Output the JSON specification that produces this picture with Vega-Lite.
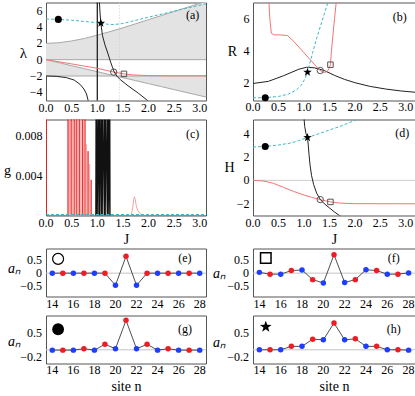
{
"$schema":"https://vega.github.io/schema/vega-lite/v6.json",
"autosize":{"type":"pad"},
"padding":{"left":3,"top":0.5,"right":0,"bottom":0},
"config":{
 "font":"Liberation Serif",
 "view":{"stroke":"#555555","strokeWidth":1},
 "axis":{"domain":false,"ticks":false,"grid":false,"labels":false,"titleFont":"Liberation Serif","titleFontSize":14,"titleFontWeight":"normal","titleColor":"#000000","titlePadding":2},
 "text":{"font":"Liberation Serif","fontSize":12,"color":"#000000"}
},
"datasets":{
 "xlabJ":[{"J":0,"t":"0.0"},{"J":0.5,"t":"0.5"},{"J":1,"t":"1.0"},{"J":1.5,"t":"1.5"},{"J":2,"t":"2.0"},{"J":2.5,"t":"2.5"},{"J":3,"t":"3.0"}],
 "xlabN":[{"n":14,"t":"14"},{"n":16,"t":"16"},{"n":18,"t":"18"},{"n":20,"t":"20"},{"n":22,"t":"22"},{"n":24,"t":"24"},{"n":26,"t":"26"},{"n":28,"t":"28"}],
 "a_band":[{"J":0,"up":2.0,"lo":0},{"J":0.25,"up":2.07,"lo":-0.37},{"J":0.5,"up":2.29,"lo":-0.74},{"J":0.75,"up":2.6,"lo":-1.1},{"J":1,"up":3.0,"lo":-1.47},{"J":1.25,"up":3.44,"lo":-1.84},{"J":1.5,"up":3.9,"lo":-2.2},{"J":1.75,"up":4.4,"lo":-2.57},{"J":2,"up":4.9,"lo":-2.94},{"J":2.25,"up":5.4,"lo":-3.3},{"J":2.5,"up":5.9,"lo":-3.67},{"J":2.75,"up":6.4,"lo":-4.04},{"J":3,"up":6.9,"lo":-4.4},{"J":3.12,"up":7.15,"lo":-4.58}],
 "a_black1":[{"J":0,"v":-2.0},{"J":0.2,"v":-2.04},{"J":0.4,"v":-2.2},{"J":0.55,"v":-2.5},{"J":0.66,"v":-3.0},{"J":0.74,"v":-3.6},{"J":0.79,"v":-4.2},{"J":0.83,"v":-5.2}],
 "a_black2":[{"J":1.04,"v":7.2},{"J":1.055,"v":5.6},{"J":1.07,"v":4.46},{"J":1.1,"v":3.0},{"J":1.15,"v":1.8},{"J":1.21,"v":0.7},{"J":1.26,"v":-0.3},{"J":1.3,"v":-1.0},{"J":1.33,"v":-1.5},{"J":1.38,"v":-2.0},{"J":1.45,"v":-2.45},{"J":1.6,"v":-3.2},{"J":1.8,"v":-4.1},{"J":2.02,"v":-5.2}],
 "a_cyan":[{"J":0,"v":4.97},{"J":0.24,"v":4.93},{"J":0.5,"v":4.83},{"J":0.8,"v":4.65},{"J":1.07,"v":4.46},{"J":1.2,"v":4.34},{"J":1.33,"v":4.3},{"J":1.5,"v":4.43},{"J":1.7,"v":4.75},{"J":1.9,"v":5.05},{"J":2.1,"v":5.35},{"J":2.37,"v":5.75},{"J":2.6,"v":6.1},{"J":2.85,"v":6.45},{"J":3.12,"v":6.85}],
 "a_red":[{"J":0,"v":0},{"J":0.5,"v":-0.52},{"J":1.0,"v":-1.06},{"J":1.32,"v":-1.52},{"J":1.52,"v":-1.74},{"J":1.7,"v":-1.87},{"J":2.0,"v":-1.95},{"J":2.5,"v":-1.97},{"J":3.12,"v":-1.97}],
 "b_black":[{"J":0,"v":2.0},{"J":0.3,"v":2.13},{"J":0.6,"v":2.48},{"J":0.9,"v":2.88},{"J":1.05,"v":3.0},{"J":1.2,"v":2.97},{"J":1.4,"v":2.8},{"J":1.6,"v":2.5},{"J":1.8,"v":2.25},{"J":2.0,"v":2.05},{"J":2.3,"v":1.82},{"J":2.6,"v":1.66},{"J":2.9,"v":1.54},{"J":3.18,"v":1.46}],
 "b_cyan":[{"J":0,"v":1.12},{"J":0.24,"v":1.12},{"J":0.5,"v":1.2},{"J":0.7,"v":1.35},{"J":0.85,"v":1.6},{"J":0.95,"v":1.9},{"J":1.02,"v":2.3},{"J":1.07,"v":2.7},{"J":1.12,"v":3.3},{"J":1.17,"v":3.9},{"J":1.25,"v":4.8},{"J":1.33,"v":5.6},{"J":1.4,"v":6.3},{"J":1.48,"v":7.1}],
 "b_red":[{"J":0.31,"v":7.2},{"J":0.33,"v":6.0},{"J":0.36,"v":5.1},{"J":0.42,"v":5.0},{"J":0.55,"v":5.0},{"J":0.68,"v":4.95},{"J":0.8,"v":4.6},{"J":0.9,"v":4.25},{"J":1.0,"v":3.9},{"J":1.1,"v":3.55},{"J":1.2,"v":3.2},{"J":1.3,"v":2.85},{"J":1.38,"v":2.68},{"J":1.45,"v":2.72},{"J":1.49,"v":2.9},{"J":1.52,"v":3.16},{"J":1.54,"v":4.0},{"J":1.57,"v":5.0},{"J":1.6,"v":6.0},{"J":1.64,"v":7.2}],
 "c_red":[{"J":0,"g":0},{"J":0.006,"g":0},{"J":0.008,"g":0.012},{"J":0.01,"g":0},{"J":0.428,"g":0},{"J":0.43,"g":0.012},{"J":0.432,"g":0},{"J":0.488,"g":0},{"J":0.49,"g":0.012},{"J":0.492,"g":0},{"J":0.548,"g":0},{"J":0.55,"g":0.012},{"J":0.552,"g":0},{"J":0.598,"g":0},{"J":0.6,"g":0.012},{"J":0.602,"g":0},{"J":0.648,"g":0},{"J":0.65,"g":0.012},{"J":0.652,"g":0},{"J":0.708,"g":0},{"J":0.71,"g":0.012},{"J":0.712,"g":0},{"J":0.758,"g":0},{"J":0.76,"g":0.012},{"J":0.762,"g":0},{"J":0.818,"g":0},{"J":0.82,"g":0.0065},{"J":0.822,"g":0},{"J":0.878,"g":0},{"J":0.88,"g":0.0036},{"J":0.882,"g":0},{"J":3.12,"g":0}],
 "c_pink":[{"J":0.455,"g":0},{"J":0.46,"g":0.012},{"J":0.465,"g":0},{"J":0.515,"g":0},{"J":0.52,"g":0.012},{"J":0.525,"g":0},{"J":0.57,"g":0},{"J":0.575,"g":0.012},{"J":0.58,"g":0},{"J":0.62,"g":0},{"J":0.625,"g":0.012},{"J":0.63,"g":0},{"J":0.675,"g":0},{"J":0.68,"g":0.012},{"J":0.685,"g":0},{"J":0.73,"g":0},{"J":0.735,"g":0.0095},{"J":0.74,"g":0},{"J":0.785,"g":0},{"J":0.79,"g":0.0072},{"J":0.795,"g":0},{"J":0.845,"g":0},{"J":0.85,"g":0.0052},{"J":0.855,"g":0}],
 "c_black":[{"J":0.97,"g":0},{"J":0.975,"g":0.012},{"J":0.98,"g":0},{"J":0.995,"g":0.012},{"J":1.0,"g":0},{"J":1.025,"g":0.012},{"J":1.03,"g":0},{"J":1.045,"g":0.012},{"J":1.05,"g":0},{"J":1.075,"g":0.012},{"J":1.08,"g":0},{"J":1.1,"g":0.012},{"J":1.105,"g":0},{"J":1.135,"g":0.012},{"J":1.14,"g":0},{"J":1.16,"g":0.012},{"J":1.165,"g":0},{"J":1.195,"g":0.012},{"J":1.2,"g":0},{"J":1.22,"g":0.012},{"J":1.225,"g":0},{"J":1.245,"g":0.012},{"J":1.25,"g":0}],
 "c_bump":[{"J":1.66,"g":0},{"J":1.69,"g":0.0008},{"J":1.71,"g":0.0016},{"J":1.725,"g":0.0019},{"J":1.74,"g":0.0016},{"J":1.76,"g":0.001},{"J":1.79,"g":0.0005},{"J":1.83,"g":0.0002},{"J":1.9,"g":0}],
 "d_black":[{"J":1.0,"v":5.4},{"J":1.015,"v":4.6},{"J":1.04,"v":4.0},{"J":1.07,"v":3.66},{"J":1.085,"v":3.0},{"J":1.1,"v":2.2},{"J":1.12,"v":1.3},{"J":1.15,"v":0.4},{"J":1.19,"v":-0.35},{"J":1.25,"v":-1.1},{"J":1.32,"v":-1.62},{"J":1.4,"v":-2.0},{"J":1.5,"v":-2.35},{"J":1.6,"v":-2.7},{"J":1.73,"v":-3.1}],
 "d_cyan":[{"J":0,"v":2.85},{"J":0.24,"v":2.9},{"J":0.5,"v":3.02},{"J":0.75,"v":3.2},{"J":0.9,"v":3.4},{"J":1.07,"v":3.66},{"J":1.3,"v":4.0},{"J":1.5,"v":4.3},{"J":1.7,"v":4.6},{"J":1.9,"v":4.95},{"J":2.1,"v":5.3}],
 "d_red":[{"J":0,"v":0},{"J":0.2,"v":-0.05},{"J":0.4,"v":-0.25},{"J":0.6,"v":-0.6},{"J":0.8,"v":-0.95},{"J":1.0,"v":-1.25},{"J":1.15,"v":-1.45},{"J":1.32,"v":-1.64},{"J":1.52,"v":-1.84},{"J":1.7,"v":-1.94},{"J":2.0,"v":-1.99},{"J":3.18,"v":-2.0}],
 "sites":[{"n":14,"sub":"B","e":0,"f":0.03,"g":-0.01,"h":0.0},{"n":15,"sub":"R","e":0,"f":-0.04,"g":-0.01,"h":0.0},{"n":16,"sub":"B","e":0,"f":-0.04,"g":-0.01,"h":0.0},{"n":17,"sub":"R","e":0,"f":0.1,"g":0.03,"h":0.1},{"n":18,"sub":"B","e":0,"f":0.12,"g":-0.01,"h":0.1},{"n":19,"sub":"R","e":0,"f":-0.25,"g":0.16,"h":0.31},{"n":20,"sub":"B","e":-0.47,"f":-0.38,"g":0.03,"h":0.29},{"n":21,"sub":"R","e":0.65,"f":0.71,"g":0.86,"h":0.78},{"n":22,"sub":"B","e":-0.47,"f":-0.36,"g":0.03,"h":0.29},{"n":23,"sub":"R","e":0,"f":-0.25,"g":0.16,"h":0.32},{"n":24,"sub":"B","e":0,"f":0.13,"g":-0.01,"h":0.1},{"n":25,"sub":"R","e":0,"f":0.1,"g":0.03,"h":0.1},{"n":26,"sub":"B","e":0,"f":-0.04,"g":-0.01,"h":0.0},{"n":27,"sub":"R","e":0,"f":-0.04,"g":-0.01,"h":0.0},{"n":28,"sub":"B","e":0,"f":0.01,"g":-0.01,"h":-0.01}]
},
"spacing":0,
"bounds":"full",
"vconcat":[
{"columns":2,"bounds":"flush","spacing":{"row":19,"column":47},"concat":[
 {"width":160,"height":98,"layer":[
  {"data":{"name":"a_band"},"mark":{"type":"area","color":"#e3e3e3","clip":true},"encoding":{
    "x":{"field":"J","type":"quantitative","scale":{"domain":[0,3.12],"nice":false,"zero":false},"axis":{"title":null}},
    "y":{"field":"up","type":"quantitative","scale":{"domain":[-5,7],"nice":false,"zero":false},"axis":{"title":"λ","titleAngle":0,"titleX":-23,"titleY":50,"titleAlign":"center","titleBaseline":"middle","titleFontSize":15}},
    "y2":{"datum":0}}},
  {"data":{"name":"a_band"},"mark":{"type":"area","color":"#e3e3e3","clip":true},"encoding":{"x":{"field":"J","type":"quantitative"},"y":{"field":"lo","type":"quantitative"},"y2":{"datum":-2}}},
  {"data":{"name":"a_band"},"mark":{"type":"line","color":"#a8a8a8","strokeWidth":1,"clip":true},"encoding":{"x":{"field":"J","type":"quantitative"},"y":{"field":"up","type":"quantitative"}}},
  {"data":{"name":"a_band"},"mark":{"type":"line","color":"#a8a8a8","strokeWidth":1,"clip":true},"encoding":{"x":{"field":"J","type":"quantitative"},"y":{"field":"lo","type":"quantitative"}}},
  {"data":{"values":[{"v":0},{"v":-2}]},"mark":{"type":"rule","color":"#a8a8a8","strokeWidth":1},"encoding":{"y":{"field":"v","type":"quantitative"}}},
  {"data":{"values":[{"J":1.43}]},"mark":{"type":"rule","color":"#c8c8c8","strokeDash":[1,2]},"encoding":{"x":{"field":"J","type":"quantitative"}}},
  {"data":{"values":[{"J":1}]},"mark":{"type":"rule","color":"#111111","strokeWidth":1.2},"encoding":{"x":{"field":"J","type":"quantitative"}}},
  {"data":{"name":"a_red"},"mark":{"type":"line","color":"#f27474","strokeWidth":1,"clip":true},"encoding":{"x":{"field":"J","type":"quantitative"},"y":{"field":"v","type":"quantitative"}}},
  {"data":{"name":"a_cyan"},"mark":{"type":"line","color":"#3fb8c4","strokeWidth":1,"strokeDash":[3,2],"clip":true},"encoding":{"x":{"field":"J","type":"quantitative"},"y":{"field":"v","type":"quantitative"}}},
  {"data":{"name":"a_black1"},"mark":{"type":"line","color":"#222222","strokeWidth":1,"clip":true},"encoding":{"x":{"field":"J","type":"quantitative"},"y":{"field":"v","type":"quantitative"}}},
  {"data":{"name":"a_black2"},"mark":{"type":"line","color":"#222222","strokeWidth":1,"clip":true},"encoding":{"x":{"field":"J","type":"quantitative"},"y":{"field":"v","type":"quantitative"}}},
  {"data":{"values":[{"J":0.24,"v":4.93}]},"mark":{"type":"point","shape":"circle","filled":true,"color":"#000000","size":50,"opacity":1},"encoding":{"x":{"field":"J","type":"quantitative"},"y":{"field":"v","type":"quantitative"}}},
  {"data":{"values":[{"J":1.07,"v":4.46}]},"mark":{"type":"point","shape":"M0,-1L0.235,-0.324L0.951,-0.309L0.38,0.124L0.588,0.809L0,0.4L-0.588,0.809L-0.38,0.124L-0.951,-0.309L-0.235,-0.324Z","filled":true,"color":"#000000","size":80,"opacity":1},"encoding":{"x":{"field":"J","type":"quantitative"},"y":{"field":"v","type":"quantitative"}}},
  {"data":{"values":[{"J":1.32,"v":-1.52}]},"mark":{"type":"point","shape":"circle","filled":false,"color":"#555555","size":40,"strokeWidth":1,"opacity":1},"encoding":{"x":{"field":"J","type":"quantitative"},"y":{"field":"v","type":"quantitative"}}},
  {"data":{"values":[{"J":1.52,"v":-1.74}]},"mark":{"type":"point","shape":"square","filled":false,"color":"#555555","size":30,"strokeWidth":1,"opacity":1},"encoding":{"x":{"field":"J","type":"quantitative"},"y":{"field":"v","type":"quantitative"}}},
  {"data":{"values":[{"J":2.86,"v":5.5,"t":"(a)"}]},"mark":{"type":"text","fontSize":12},"encoding":{"x":{"field":"J","type":"quantitative"},"y":{"field":"v","type":"quantitative"},"text":{"field":"t"}}},
  {"data":{"name":"xlabJ"},"mark":{"type":"text","fontSize":12,"align":"center","baseline":"middle"},"encoding":{"x":{"field":"J","type":"quantitative"},"y":{"datum":-5.86,"type":"quantitative"},"text":{"field":"t"}}},
  {"data":{"values":[{"v":-4,"t":"−4"},{"v":-2,"t":"−2"},{"v":0,"t":"0"},{"v":2,"t":"2"},{"v":4,"t":"4"},{"v":6,"t":"6"}]},"mark":{"type":"text","fontSize":12,"align":"right","baseline":"middle"},"encoding":{"x":{"datum":-0.07,"type":"quantitative"},"y":{"field":"v","type":"quantitative"},"text":{"field":"t"}}}
 ]},
 {"width":162,"height":98,"layer":[
  {"data":{"name":"b_black"},"mark":{"type":"line","color":"#222222","strokeWidth":1,"clip":true},"encoding":{
    "x":{"field":"J","type":"quantitative","scale":{"domain":[0,3.18],"nice":false,"zero":false},"axis":{"title":null}},
    "y":{"field":"v","type":"quantitative","scale":{"domain":[0.95,7],"nice":false,"zero":false},"axis":{"title":"R","titleAngle":0,"titleX":-21,"titleY":49,"titleAlign":"center","titleBaseline":"middle"}}}},
  {"data":{"name":"b_red"},"mark":{"type":"line","color":"#f27474","strokeWidth":1,"clip":true},"encoding":{"x":{"field":"J","type":"quantitative"},"y":{"field":"v","type":"quantitative"}}},
  {"data":{"name":"b_cyan"},"mark":{"type":"line","color":"#3fb8c4","strokeWidth":1,"strokeDash":[3,2],"clip":true},"encoding":{"x":{"field":"J","type":"quantitative"},"y":{"field":"v","type":"quantitative"}}},
  {"data":{"values":[{"J":0.24,"v":1.12}]},"mark":{"type":"point","shape":"circle","filled":true,"color":"#000000","size":50,"opacity":1},"encoding":{"x":{"field":"J","type":"quantitative"},"y":{"field":"v","type":"quantitative"}}},
  {"data":{"values":[{"J":1.07,"v":2.7}]},"mark":{"type":"point","shape":"M0,-1L0.235,-0.324L0.951,-0.309L0.38,0.124L0.588,0.809L0,0.4L-0.588,0.809L-0.38,0.124L-0.951,-0.309L-0.235,-0.324Z","filled":true,"color":"#000000","size":80,"opacity":1},"encoding":{"x":{"field":"J","type":"quantitative"},"y":{"field":"v","type":"quantitative"}}},
  {"data":{"values":[{"J":1.32,"v":2.8}]},"mark":{"type":"point","shape":"circle","filled":false,"color":"#555555","size":40,"strokeWidth":1,"opacity":1},"encoding":{"x":{"field":"J","type":"quantitative"},"y":{"field":"v","type":"quantitative"}}},
  {"data":{"values":[{"J":1.52,"v":3.16}]},"mark":{"type":"point","shape":"square","filled":false,"color":"#555555","size":30,"strokeWidth":1,"opacity":1},"encoding":{"x":{"field":"J","type":"quantitative"},"y":{"field":"v","type":"quantitative"}}},
  {"data":{"values":[{"J":2.88,"v":6.1,"t":"(b)"}]},"mark":{"type":"text","fontSize":12},"encoding":{"x":{"field":"J","type":"quantitative"},"y":{"field":"v","type":"quantitative"},"text":{"field":"t"}}},
  {"data":{"name":"xlabJ"},"mark":{"type":"text","fontSize":12,"align":"center","baseline":"middle"},"encoding":{"x":{"field":"J","type":"quantitative"},"y":{"datum":0.52,"type":"quantitative"},"text":{"field":"t"}}},
  {"data":{"values":[{"v":2,"t":"2"},{"v":4,"t":"4"},{"v":6,"t":"6"}]},"mark":{"type":"text","fontSize":12,"align":"right","baseline":"middle"},"encoding":{"x":{"datum":-0.07,"type":"quantitative"},"y":{"field":"v","type":"quantitative"},"text":{"field":"t"}}}
 ]},
 {"width":160,"height":96,"layer":[
  {"data":{"name":"c_red"},"mark":{"type":"line","color":"#e82424","strokeWidth":0.8,"clip":true},"encoding":{
    "x":{"field":"J","type":"quantitative","scale":{"domain":[0,3.12],"nice":false,"zero":false},"axis":{"title":"J","titlePadding":17}},
    "y":{"field":"g","type":"quantitative","scale":{"domain":[0,0.0097],"nice":false,"zero":false},"axis":{"title":"g","titleAngle":0,"titleX":-39,"titleY":51,"titleAlign":"center","titleBaseline":"middle"}},
    "order":{"value":null}}},
  {"data":{"name":"c_pink"},"mark":{"type":"line","color":"#f5a3a3","strokeWidth":0.8,"clip":true},"encoding":{"x":{"field":"J","type":"quantitative"},"y":{"field":"g","type":"quantitative"},"order":{"value":null}}},
  {"data":{"name":"c_black"},"mark":{"type":"line","color":"#111111","strokeWidth":1.1,"clip":true},"encoding":{"x":{"field":"J","type":"quantitative"},"y":{"field":"g","type":"quantitative"},"order":{"value":null}}},
  {"data":{"name":"c_bump"},"mark":{"type":"line","color":"#f5a0a0","strokeWidth":1,"clip":true},"encoding":{"x":{"field":"J","type":"quantitative"},"y":{"field":"g","type":"quantitative"}}},
  {"data":{"values":[{"J":0,"g":0.0001},{"J":3.12,"g":0.0001}]},"mark":{"type":"line","color":"#3fb8c4","strokeWidth":1,"strokeDash":[3,2],"clip":true},"encoding":{"x":{"field":"J","type":"quantitative"},"y":{"field":"g","type":"quantitative"}}},
  {"data":{"values":[{"J":2.86,"g":0.0082,"t":"(c)"}]},"mark":{"type":"text","fontSize":12},"encoding":{"x":{"field":"J","type":"quantitative"},"y":{"field":"g","type":"quantitative"},"text":{"field":"t"}}},
  {"data":{"name":"xlabJ"},"mark":{"type":"text","fontSize":12,"align":"center","baseline":"middle"},"encoding":{"x":{"field":"J","type":"quantitative"},"y":{"datum":-0.00071,"type":"quantitative"},"text":{"field":"t"}}},
  {"data":{"values":[{"g":0.004,"t":"0.004"},{"g":0.008,"t":"0.008"}]},"mark":{"type":"text","fontSize":12,"align":"right","baseline":"middle"},"encoding":{"x":{"datum":-0.07,"type":"quantitative"},"y":{"field":"g","type":"quantitative"},"text":{"field":"t"}}}
 ]},
 {"width":162,"height":96,"layer":[
  {"data":{"values":[{"v":0}]},"mark":{"type":"rule","color":"#cccccc","strokeWidth":1},"encoding":{"y":{"field":"v","type":"quantitative","scale":{"domain":[-3,5.2],"nice":false,"zero":false},"axis":{"title":"H","titleAngle":0,"titleX":-24,"titleY":48,"titleAlign":"center","titleBaseline":"middle"}}}},
  {"data":{"name":"d_red"},"mark":{"type":"line","color":"#f27474","strokeWidth":1,"clip":true},"encoding":{
    "x":{"field":"J","type":"quantitative","scale":{"domain":[0,3.18],"nice":false,"zero":false},"axis":{"title":"J","titlePadding":17}},
    "y":{"field":"v","type":"quantitative"}}},
  {"data":{"name":"d_cyan"},"mark":{"type":"line","color":"#3fb8c4","strokeWidth":1,"strokeDash":[3,2],"clip":true},"encoding":{"x":{"field":"J","type":"quantitative"},"y":{"field":"v","type":"quantitative"}}},
  {"data":{"name":"d_black"},"mark":{"type":"line","color":"#222222","strokeWidth":1,"clip":true},"encoding":{"x":{"field":"J","type":"quantitative"},"y":{"field":"v","type":"quantitative"}}},
  {"data":{"values":[{"J":0.24,"v":2.9}]},"mark":{"type":"point","shape":"circle","filled":true,"color":"#000000","size":50,"opacity":1},"encoding":{"x":{"field":"J","type":"quantitative"},"y":{"field":"v","type":"quantitative"}}},
  {"data":{"values":[{"J":1.07,"v":3.66}]},"mark":{"type":"point","shape":"M0,-1L0.235,-0.324L0.951,-0.309L0.38,0.124L0.588,0.809L0,0.4L-0.588,0.809L-0.38,0.124L-0.951,-0.309L-0.235,-0.324Z","filled":true,"color":"#000000","size":80,"opacity":1},"encoding":{"x":{"field":"J","type":"quantitative"},"y":{"field":"v","type":"quantitative"}}},
  {"data":{"values":[{"J":1.32,"v":-1.64}]},"mark":{"type":"point","shape":"circle","filled":false,"color":"#555555","size":40,"strokeWidth":1,"opacity":1},"encoding":{"x":{"field":"J","type":"quantitative"},"y":{"field":"v","type":"quantitative"}}},
  {"data":{"values":[{"J":1.52,"v":-1.84}]},"mark":{"type":"point","shape":"square","filled":false,"color":"#555555","size":30,"strokeWidth":1,"opacity":1},"encoding":{"x":{"field":"J","type":"quantitative"},"y":{"field":"v","type":"quantitative"}}},
  {"data":{"values":[{"J":2.93,"v":4.05,"t":"(d)"}]},"mark":{"type":"text","fontSize":12},"encoding":{"x":{"field":"J","type":"quantitative"},"y":{"field":"v","type":"quantitative"},"text":{"field":"t"}}},
  {"data":{"name":"xlabJ"},"mark":{"type":"text","fontSize":12,"align":"center","baseline":"middle"},"encoding":{"x":{"field":"J","type":"quantitative"},"y":{"datum":-3.6,"type":"quantitative"},"text":{"field":"t"}}},
  {"data":{"values":[{"v":-2,"t":"−2"},{"v":0,"t":"0"},{"v":2,"t":"2"},{"v":4,"t":"4"}]},"mark":{"type":"text","fontSize":12,"align":"right","baseline":"middle"},"encoding":{"x":{"datum":-0.07,"type":"quantitative"},"y":{"field":"v","type":"quantitative"},"text":{"field":"t"}}}
 ]}
]},
{"columns":2,"bounds":"flush","spacing":{"row":19,"column":47},"concat":[
 {"width":160,"height":48,"layer":[
  {"data":{"values":[{"v":0}]},"mark":{"type":"rule","color":"#c4c4c4","strokeWidth":1},"encoding":{"y":{"field":"v","type":"quantitative","scale":{"domain":[-0.9,0.95],"nice":false,"zero":false},"axis":{"title":"aₙ","titleFontStyle":"italic","titleAngle":0,"titleX":-32,"titleY":20,"titleAlign":"center","titleBaseline":"middle"}}}},
  {"data":{"name":"sites"},"mark":{"type":"line","color":"#222222","strokeWidth":0.8},"encoding":{"x":{"field":"n","type":"quantitative","scale":{"domain":[13.4,28.6],"nice":false,"zero":false},"axis":{"title":null}},"y":{"field":"e","type":"quantitative"}}},
  {"data":{"name":"sites"},"mark":{"type":"circle","size":30,"opacity":1},"encoding":{"x":{"field":"n","type":"quantitative"},"y":{"field":"e","type":"quantitative"},"color":{"field":"sub","type":"nominal","scale":{"domain":["B","R"],"range":["#1f3dff","#ee1c25"]},"legend":null}}},
  {"data":{"values":[{"n":14.55,"v":0.55}]},"mark":{"type":"point","shape":"circle","filled":false,"color":"#000000","size":120,"strokeWidth":1.2,"opacity":1},"encoding":{"x":{"field":"n","type":"quantitative"},"y":{"field":"v","type":"quantitative"}}},
  {"data":{"values":[{"n":26.6,"v":0.58,"t":"(e)"}]},"mark":{"type":"text","fontSize":12},"encoding":{"x":{"field":"n","type":"quantitative"},"y":{"field":"v","type":"quantitative"},"text":{"field":"t"}}},
  {"data":{"name":"xlabN"},"mark":{"type":"text","fontSize":12,"align":"center","baseline":"middle"},"encoding":{"x":{"field":"n","type":"quantitative"},"y":{"datum":-1.17,"type":"quantitative"},"text":{"field":"t"}}},
  {"data":{"values":[{"v":-0.5,"t":"−0.5"},{"v":0,"t":"0"},{"v":0.5,"t":"0.5"}]},"mark":{"type":"text","fontSize":12,"align":"right","baseline":"middle"},"encoding":{"x":{"datum":13.03,"type":"quantitative"},"y":{"field":"v","type":"quantitative"},"text":{"field":"t"}}}
 ]},
 {"width":162,"height":48,"layer":[
  {"data":{"values":[{"v":0}]},"mark":{"type":"rule","color":"#c4c4c4","strokeWidth":1},"encoding":{"y":{"field":"v","type":"quantitative","scale":{"domain":[-0.9,0.95],"nice":false,"zero":false},"axis":{"title":"aₙ","titleFontStyle":"italic","titleAngle":0,"titleX":-34,"titleY":25,"titleAlign":"center","titleBaseline":"middle"}}}},
  {"data":{"name":"sites"},"mark":{"type":"line","color":"#222222","strokeWidth":0.8},"encoding":{"x":{"field":"n","type":"quantitative","scale":{"domain":[13.4,28.6],"nice":false,"zero":false},"axis":{"title":null}},"y":{"field":"f","type":"quantitative"}}},
  {"data":{"name":"sites"},"mark":{"type":"circle","size":30,"opacity":1},"encoding":{"x":{"field":"n","type":"quantitative"},"y":{"field":"f","type":"quantitative"},"color":{"field":"sub","type":"nominal","scale":{"domain":["B","R"],"range":["#1f3dff","#ee1c25"]},"legend":null}}},
  {"data":{"values":[{"n":14.6,"v":0.58}]},"mark":{"type":"point","shape":"square","filled":false,"color":"#000000","size":110,"strokeWidth":1.5,"opacity":1},"encoding":{"x":{"field":"n","type":"quantitative"},"y":{"field":"v","type":"quantitative"}}},
  {"data":{"values":[{"n":26.6,"v":0.58,"t":"(f)"}]},"mark":{"type":"text","fontSize":12},"encoding":{"x":{"field":"n","type":"quantitative"},"y":{"field":"v","type":"quantitative"},"text":{"field":"t"}}},
  {"data":{"name":"xlabN"},"mark":{"type":"text","fontSize":12,"align":"center","baseline":"middle"},"encoding":{"x":{"field":"n","type":"quantitative"},"y":{"datum":-1.17,"type":"quantitative"},"text":{"field":"t"}}},
  {"data":{"values":[{"v":-0.5,"t":"−0.5"},{"v":0,"t":"0"},{"v":0.5,"t":"0.5"}]},"mark":{"type":"text","fontSize":12,"align":"right","baseline":"middle"},"encoding":{"x":{"datum":13.03,"type":"quantitative"},"y":{"field":"v","type":"quantitative"},"text":{"field":"t"}}}
 ]},
 {"width":160,"height":48,"layer":[
  {"data":{"values":[{"v":0}]},"mark":{"type":"rule","color":"#c4c4c4","strokeWidth":1},"encoding":{"y":{"field":"v","type":"quantitative","scale":{"domain":[-0.4,1.0],"nice":false,"zero":false},"axis":{"title":"aₙ","titleFontStyle":"italic","titleAngle":0,"titleX":-32,"titleY":26,"titleAlign":"center","titleBaseline":"middle"}}}},
  {"data":{"name":"sites"},"mark":{"type":"line","color":"#222222","strokeWidth":0.8},"encoding":{"x":{"field":"n","type":"quantitative","scale":{"domain":[13.4,28.6],"nice":false,"zero":false},"axis":{"title":"site n","titlePadding":16}},"y":{"field":"g","type":"quantitative"}}},
  {"data":{"name":"sites"},"mark":{"type":"circle","size":30,"opacity":1},"encoding":{"x":{"field":"n","type":"quantitative"},"y":{"field":"g","type":"quantitative"},"color":{"field":"sub","type":"nominal","scale":{"domain":["B","R"],"range":["#1f3dff","#ee1c25"]},"legend":null}}},
  {"data":{"values":[{"n":14.55,"v":0.6}]},"mark":{"type":"point","shape":"circle","filled":true,"color":"#000000","size":140,"opacity":1},"encoding":{"x":{"field":"n","type":"quantitative"},"y":{"field":"v","type":"quantitative"}}},
  {"data":{"values":[{"n":26.6,"v":0.62,"t":"(g)"}]},"mark":{"type":"text","fontSize":12},"encoding":{"x":{"field":"n","type":"quantitative"},"y":{"field":"v","type":"quantitative"},"text":{"field":"t"}}},
  {"data":{"name":"xlabN"},"mark":{"type":"text","fontSize":12,"align":"center","baseline":"middle"},"encoding":{"x":{"field":"n","type":"quantitative"},"y":{"datum":-0.6,"type":"quantitative"},"text":{"field":"t"}}},
  {"data":{"values":[{"v":-0.2,"t":"−0.2"},{"v":0.5,"t":"0.5"}]},"mark":{"type":"text","fontSize":12,"align":"right","baseline":"middle"},"encoding":{"x":{"datum":13.03,"type":"quantitative"},"y":{"field":"v","type":"quantitative"},"text":{"field":"t"}}}
 ]},
 {"width":162,"height":48,"layer":[
  {"data":{"values":[{"v":0}]},"mark":{"type":"rule","color":"#c4c4c4","strokeWidth":1},"encoding":{"y":{"field":"v","type":"quantitative","scale":{"domain":[-0.4,1.0],"nice":false,"zero":false},"axis":{"title":"aₙ","titleFontStyle":"italic","titleAngle":0,"titleX":-34,"titleY":27,"titleAlign":"center","titleBaseline":"middle"}}}},
  {"data":{"name":"sites"},"mark":{"type":"line","color":"#222222","strokeWidth":0.8},"encoding":{"x":{"field":"n","type":"quantitative","scale":{"domain":[13.4,28.6],"nice":false,"zero":false},"axis":{"title":"site n","titlePadding":16}},"y":{"field":"h","type":"quantitative"}}},
  {"data":{"name":"sites"},"mark":{"type":"circle","size":30,"opacity":1},"encoding":{"x":{"field":"n","type":"quantitative"},"y":{"field":"h","type":"quantitative"},"color":{"field":"sub","type":"nominal","scale":{"domain":["B","R"],"range":["#1f3dff","#ee1c25"]},"legend":null}}},
  {"data":{"values":[{"n":14.6,"v":0.67}]},"mark":{"type":"point","shape":"M0,-1L0.235,-0.324L0.951,-0.309L0.38,0.124L0.588,0.809L0,0.4L-0.588,0.809L-0.38,0.124L-0.951,-0.309L-0.235,-0.324Z","filled":true,"color":"#000000","size":150,"opacity":1},"encoding":{"x":{"field":"n","type":"quantitative"},"y":{"field":"v","type":"quantitative"}}},
  {"data":{"values":[{"n":26.6,"v":0.62,"t":"(h)"}]},"mark":{"type":"text","fontSize":12},"encoding":{"x":{"field":"n","type":"quantitative"},"y":{"field":"v","type":"quantitative"},"text":{"field":"t"}}},
  {"data":{"name":"xlabN"},"mark":{"type":"text","fontSize":12,"align":"center","baseline":"middle"},"encoding":{"x":{"field":"n","type":"quantitative"},"y":{"datum":-0.6,"type":"quantitative"},"text":{"field":"t"}}},
  {"data":{"values":[{"v":-0.2,"t":"−0.2"},{"v":0.5,"t":"0.5"}]},"mark":{"type":"text","fontSize":12,"align":"right","baseline":"middle"},"encoding":{"x":{"datum":13.03,"type":"quantitative"},"y":{"field":"v","type":"quantitative"},"text":{"field":"t"}}}
 ]}
]}
]
}
